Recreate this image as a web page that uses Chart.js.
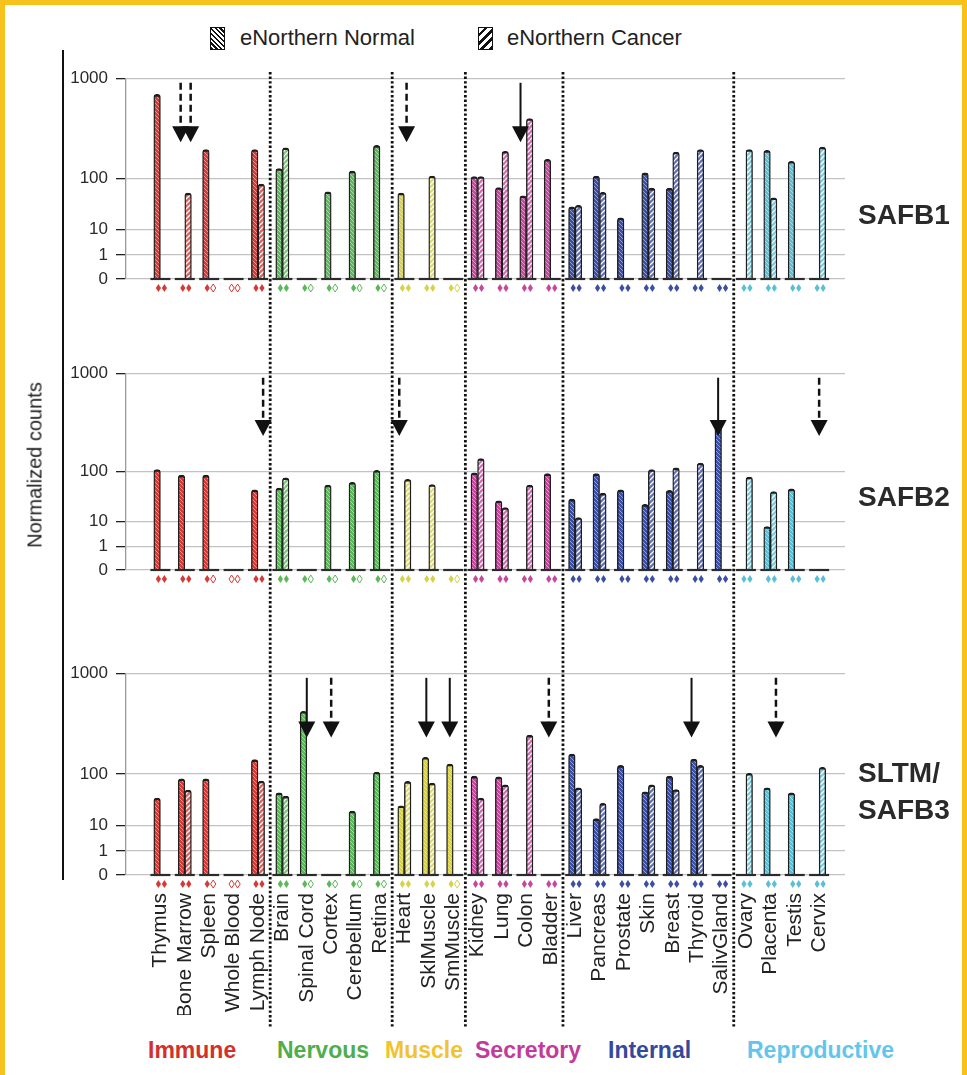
<!DOCTYPE html>
<html>
<head>
<meta charset="utf-8">
<script src="https://cdn.jsdelivr.net/npm/chart.js@4.4.1/dist/chart.umd.min.js"></script>
<style>
  body { margin: 0; background: #fff; font-family: "Liberation Sans", Arial, sans-serif; }
  #page { position: relative; width: 967px; height: 1075px; overflow: hidden; background: #fff; }
  #page canvas { position: absolute; left: 0; }
  .frame { position: absolute; left: 0; top: 0; right: 0; bottom: 0; border: 5px solid #f6c21b; border-bottom: none; pointer-events: none; }
  .legend-box { position: absolute; top: 27px; width: 13px; height: 21px; border: 1.5px solid #111; }
  .legend-text { position: absolute; top: 26px; font-size: 22px; line-height: 24px; color: #222; }
  .gene { position: absolute; left: 858px; font-weight: bold; font-size: 28px; line-height: 37px; color: #2a2a2a; }
  .system { position: absolute; top: 1036px; font-weight: bold; font-size: 23px; line-height: 28px; }
  .ytitle { position: absolute; left: 35px; top: 465px; transform: translate(-50%, -50%) rotate(-90deg); font-size: 20px; color: #222; white-space: nowrap; }
  .yline { position: absolute; left: 62px; top: 50px; width: 2px; height: 830px; background: #111; }
</style>
</head>
<body>
<div id="page">
  <canvas id="safb1" width="967" height="295" style="top:60px"></canvas>
  <canvas id="safb2" width="967" height="300" style="top:355px"></canvas>
  <canvas id="sltm" width="967" height="375" style="top:655px"></canvas>

  <div class="legend-box" style="left:210px; background: repeating-linear-gradient(45deg, #111 0 1.6px, #fff 1.6px 3.4px);"></div>
  <div class="legend-text" style="left:240px">eNorthern Normal</div>
  <div class="legend-box" style="left:478px; background: repeating-linear-gradient(-45deg, #111 0 2.5px, #fff 2.5px 6px);"></div>
  <div class="legend-text" style="left:507px">eNorthern Cancer</div>

  <div class="yline"></div>
  <div class="ytitle">Normalized counts</div>

  <div class="gene" style="top:196px">SAFB1</div>
  <div class="gene" style="top:478px">SAFB2</div>
  <div class="gene" style="top:754px">SLTM/<br>SAFB3</div>

  <div class="system" style="left:148px; color:#d3302c">Immune</div>
  <div class="system" style="left:277px; color:#4fae4b">Nervous</div>
  <div class="system" style="left:385px; color:#f2c22f">Muscle</div>
  <div class="system" style="left:475px; color:#c23b9c">Secretory</div>
  <div class="system" style="left:608px; color:#35499b">Internal</div>
  <div class="system" style="left:747px; color:#62c6ec">Reproductive</div>

  <div class="frame"></div>
</div>

<script>
// tissues, grouped by organ system
const categories = ['Thymus', 'Bone Marrow', 'Spleen', 'Whole Blood', 'Lymph Node',
  'Brain', 'Spinal Cord', 'Cortex', 'Cerebellum', 'Retina',
  'Heart', 'SklMuscle', 'SmMuscle',
  'Kidney', 'Lung', 'Colon', 'Bladder',
  'Liver', 'Pancreas', 'Prostate', 'Skin', 'Breast', 'Thyroid', 'SalivGland',
  'Ovary', 'Placenta', 'Testis', 'Cervix'];
const systems = ['Immune', 'Nervous', 'Muscle', 'Secretory', 'Internal', 'Reproductive'];
const systemSizes = [5, 5, 3, 4, 7, 4];

// filled / hollow diamonds under each tissue (samples available)
const normalSampled = [1, 1, 1, 0, 1, 1, 1, 1, 1, 1, 1, 1, 1, 1, 1, 1, 1, 1, 1, 1, 1, 1, 1, 1, 1, 1, 1, 1];
const cancerSampled = [1, 1, 0, 0, 1, 1, 0, 0, 0, 0, 1, 1, 0, 1, 1, 1, 1, 1, 1, 1, 1, 1, 1, 1, 1, 1, 1, 1];

const safb1Normal = [690, 0, 195, 0, 195, 126, 0, 55, 119, 214, 52, 0, 0, 105, 67, 46, 156, 28, 106, 17, 114, 65, 0, 0, 0, 191, 149, 0];
const safb1Cancer = [0, 52, 0, 0, 78, 203, 0, 0, 0, 0, 0, 106, 0, 105, 187, 396, 0, 30, 54, 0, 65, 184, 195, 0, 195, 42, 0, 206];

const safb2Normal = [105, 85, 85, 0, 43, 47, 0, 54, 61, 103, 0, 0, 0, 94, 26, 0, 91, 28, 91, 43, 22, 42, 0, 280, 0, 6.3, 45, 0];
const safb2Cancer = [0, 0, 0, 0, 0, 75, 0, 0, 0, 0, 70, 55, 0, 136, 19, 54, 0, 12, 37, 0, 105, 109, 122, 0, 78, 40, 0, 0];

const sltmNormal = [34, 81, 81, 0, 139, 43, 420, 0, 19, 105, 24, 147, 126, 91, 88, 0, 0, 158, 13.5, 122, 45, 91, 141, 0, 0, 54, 43, 0];
const sltmCancer = [0, 49, 0, 0, 73, 37, 0, 0, 0, 0, 72, 67, 0, 34, 62, 243, 0, 54, 27, 0, 62, 50, 122, 0, 102, 0, 0, 117];

// arrows: [tissue index, shift within the tissue, line style]
const safb1Arrows = [[1, -0.17, 'dashed'], [1, 0.24, 'dashed'], [10, 0.09, 'dashed'], [15, -0.24, 'solid']];
const safb2Arrows = [[4, 0.21, 'dashed'], [10, -0.21, 'dashed'], [23, -0.14, 'solid'], [27, 0, 'dashed']];
const sltmArrows = [[6, 0, 'solid'], [7, 0, 'dashed'], [11, -0.1, 'solid'], [12, -0.14, 'solid'],
  [16, -0.08, 'dashed'], [22, -0.23, 'solid'], [25, 0.23, 'dashed']];

const tickValues = [0, 1, 10, 100, 1000];
const tickLabels = ['0', '1', '10', '100', '1000'];

const FONT = '"Liberation Sans", Arial, sans-serif';
const barColors = ['#d53b36', '#5db85b', '#d6d24f', '#c6479e', '#3a4fa5', '#5cbfd3'];
const systemOf = systemSizes.flatMap((n, g) => Array(n).fill(g));
const SEP_START = 72; // page y where the dotted dividers begin

// broken axis: 0-1 linear, then log decades of growing height
function toAxis(v) {
  if (v <= 0) return 0;
  if (v <= 1) return v * 24.5;
  const lg = Math.log10(v);
  if (lg <= 1) return 24.5 + lg * 26;
  if (lg <= 2) return 50.5 + (lg - 1) * 52;
  return 102.5 + (lg - 2) * 102.5;
}

function mix(hex, t) {
  const n = parseInt(hex.slice(1), 16);
  const f = (c) => Math.round(c + (255 - c) * t);
  return `rgb(${f((n >> 16) & 255)}, ${f((n >> 8) & 255)}, ${f(n & 255)})`;
}

function stripePattern(base, stripe, dir, lw, size) {
  const c = document.createElement('canvas');
  c.width = c.height = size;
  const g = c.getContext('2d');
  g.fillStyle = base;
  g.fillRect(0, 0, size, size);
  g.strokeStyle = stripe;
  g.lineWidth = lw;
  g.beginPath();
  for (let k = -1; k <= 1; k++) {
    if (dir === '/') { g.moveTo(k * size, size); g.lineTo(k * size + size, 0); }
    else { g.moveTo(k * size, 0); g.lineTo(k * size + size, size); }
  }
  g.stroke();
  return g.createPattern(c, 'repeat');
}

const normalFills = barColors.map((c) => stripePattern(c, mix(c, 0.45), '\\', 1, 4));
const cancerFills = barColors.map((c) => stripePattern(mix(c, 0.2), '#ffffff', '/', 1.3, 5));

function diamond(ctx, x, y, color, filled) {
  ctx.beginPath();
  ctx.moveTo(x, y - 4);
  ctx.lineTo(x + 2.6, y);
  ctx.lineTo(x, y + 4);
  ctx.lineTo(x - 2.6, y);
  ctx.closePath();
  if (filled) { ctx.fillStyle = color; ctx.fill(); }
  else { ctx.strokeStyle = color; ctx.lineWidth = 1; ctx.stroke(); }
}

function decorPlugin(arrows, pageTop, sepTop, sepBottom) {
  return {
    id: 'decor',
    afterDatasetsDraw(chart) {
      const { ctx, chartArea, scales: { x, y } } = chart;
      ctx.save();
      categories.forEach((_, i) => {
        const cx = x.getPixelForValue(i);
        ctx.setLineDash([]);
        ctx.strokeStyle = '#2b2b2b';
        ctx.lineWidth = 2.2;
        ctx.beginPath();
        ctx.moveTo(cx - 10, chartArea.bottom);
        ctx.lineTo(cx + 10, chartArea.bottom);
        ctx.stroke();
        const col = barColors[systemOf[i]];
        diamond(ctx, cx - 2, chartArea.bottom + 9, col, normalSampled[i]);
        diamond(ctx, cx + 4, chartArea.bottom + 9, col, cancerSampled[i]);
      });
      const yTop = y.getPixelForValue(toAxis(900));
      const yTip = y.getPixelForValue(toAxis(230));
      arrows.forEach(([idx, dx, style]) => {
        const ax = x.getPixelForValue(idx + dx);
        ctx.strokeStyle = '#111';
        ctx.fillStyle = '#111';
        ctx.lineWidth = style === 'dashed' ? 2.5 : 2;
        ctx.setLineDash(style === 'dashed' ? [7, 4] : []);
        ctx.beginPath();
        ctx.moveTo(ax, yTop);
        ctx.lineTo(ax, yTip - 14);
        ctx.stroke();
        ctx.setLineDash([]);
        ctx.beginPath();
        ctx.moveTo(ax - 8.5, yTip - 16);
        ctx.lineTo(ax + 8.5, yTip - 16);
        ctx.lineTo(ax, yTip);
        ctx.closePath();
        ctx.fill();
      });
      ctx.restore();
    },
    afterDraw(chart) {
      const { ctx, scales: { x } } = chart;
      ctx.save();
      ctx.strokeStyle = '#111';
      ctx.lineWidth = 2.8;
      ctx.setLineDash([2.4, 2.2]);
      ctx.lineDashOffset = (pageTop + sepTop - SEP_START) % 4.6;
      let edge = -0.5;
      systemSizes.slice(0, -1).forEach((n) => {
        edge += n;
        const sx = x.getPixelForValue(edge);
        ctx.beginPath();
        ctx.moveTo(sx, sepTop);
        ctx.lineTo(sx, sepBottom);
        ctx.stroke();
      });
      ctx.restore();
    },
  };
}

function buildPanel(id, normal, cancer, arrows, layout) {
  const canvas = document.getElementById(id);
  const common = {
    borderColor: '#1e1e1e',
    borderWidth: { top: 2.6, left: 1.4, right: 1.4, bottom: 0 },
    borderRadius: { topLeft: 3, topRight: 3 },
    borderSkipped: 'start',
    barThickness: 6.6,
  };
  return new Chart(canvas, {
    type: 'bar',
    data: {
      datasets: [
        { label: 'eNorthern Normal', data: normal.map((v, i) => ({ x: i, y: toAxis(v) })),
          backgroundColor: (c) => normalFills[systemOf[c.dataIndex]], ...common },
        { label: 'eNorthern Cancer', data: cancer.map((v, i) => ({ x: i, y: toAxis(v) })),
          backgroundColor: (c) => cancerFills[systemOf[c.dataIndex]], ...common },
      ],
    },
    options: {
      responsive: false,
      animation: false,
      devicePixelRatio: 1,
      layout: { padding: { left: 0, right: 122, top: layout.top, bottom: layout.bottom } },
      plugins: { legend: { display: false }, tooltip: { enabled: false } },
      scales: {
        x: {
          type: 'linear',
          min: -1.41,
          max: 28.06,
          offset: false,
          display: layout.labels,
          grid: { display: false, drawTicks: false },
          border: { display: false },
          afterBuildTicks: (s) => { s.ticks = categories.map((_, i) => ({ value: i })); },
          afterFit: (s) => { s.height = layout.labels ? 140 : 0; },
          ticks: {
            autoSkip: false,
            minRotation: 90,
            maxRotation: 90,
            padding: 18,
            color: '#222',
            font: { family: FONT, size: 21 },
            callback: (v) => categories[Math.round(v)],
          },
        },
        y: {
          type: 'linear',
          min: 0,
          max: 205,
          afterBuildTicks: (s) => { s.ticks = tickValues.map((v) => ({ value: toAxis(v) })); },
          afterFit: (s) => { s.width = 126; },
          grid: { color: '#c2c2c2', lineWidth: 1.3, tickColor: '#222', tickLength: 10 },
          border: { color: '#9a9a9a', width: 1.3 },
          ticks: {
            padding: 8,
            color: '#2a2a2a',
            font: { family: FONT, size: 17 },
            callback: (v, i) => tickLabels[i],
          },
        },
      },
    },
    plugins: [decorPlugin(arrows, layout.pageTop, layout.sepTop, layout.sepBottom)],
  });
}

buildPanel('safb1', safb1Normal, safb1Cancer, safb1Arrows, { pageTop: 60, top: 15, bottom: 76, labels: false, sepTop: 12, sepBottom: 295 });
buildPanel('safb2', safb2Normal, safb2Cancer, safb2Arrows, { pageTop: 355, top: 10, bottom: 85, labels: false, sepTop: 0, sepBottom: 300 });
buildPanel('sltm', sltmNormal, sltmCancer, sltmArrows, { pageTop: 655, top: 15, bottom: 15, labels: true, sepTop: 0, sepBottom: 372 });
</script>
</body>
</html>
